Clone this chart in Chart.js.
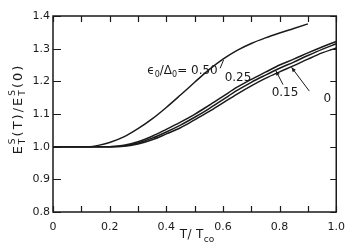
<!DOCTYPE html>
<html>
<head>
<meta charset="utf-8">
<script src="https://cdn.jsdelivr.net/npm/chart.js@4.4.1/dist/chart.umd.min.js"></script>
<style>
  html, body { margin: 0; padding: 0; background: #fff; }
  #wrap { width: 354px; height: 251px; }
</style>
</head>
<body>
<div id="wrap"><canvas id="c" width="354" height="251"></canvas></div>
<script>
// ---- data ----
const xTickValues = [0, 0.2, 0.4, 0.6, 0.8, 1.0];
const xTickLabels = ['0', '0.2', '0.4', '0.6', '0.8', '1.0'];
const xMinorTicks = [0, 0.1, 0.2, 0.3, 0.4, 0.5, 0.6, 0.7, 0.8, 0.9, 1.0];
const yTickValues = [0.8, 0.9, 1.0, 1.1, 1.2, 1.3, 1.4];
const yTickLabels = ['0.8', '0.9', '1.0', '1.1', '1.2', '1.3', '1.4'];

const x50 = [0, 0.05, 0.1, 0.13, 0.16, 0.2, 0.25, 0.3, 0.35, 0.4, 0.45, 0.5, 0.55, 0.6, 0.65, 0.7, 0.75, 0.8, 0.85, 0.9];
const y50 = [1, 1, 1, 1, 1.004, 1.013, 1.03, 1.055, 1.085, 1.12, 1.158, 1.197, 1.235, 1.268, 1.295, 1.316, 1.333, 1.348, 1.362, 1.376];

const xLow = [0, 0.1, 0.2, 0.25, 0.3, 0.35, 0.4, 0.45, 0.5, 0.55, 0.6, 0.65, 0.7, 0.75, 0.8, 0.85, 0.9, 0.95, 1.0];
const y25 = [1, 1, 1, 1.004, 1.015, 1.032, 1.053, 1.075, 1.099, 1.126, 1.154, 1.182, 1.206, 1.228, 1.25, 1.268, 1.287, 1.305, 1.322];
const y15 = [1, 1, 1, 1.002, 1.011, 1.026, 1.045, 1.066, 1.09, 1.116, 1.144, 1.172, 1.197, 1.219, 1.24, 1.259, 1.279, 1.298, 1.315];
const y00 = [1, 1, 1, 1.001, 1.008, 1.021, 1.039, 1.058, 1.082, 1.107, 1.134, 1.161, 1.186, 1.209, 1.229, 1.248, 1.268, 1.287, 1.302];

const seriesNames = ['0.50', '0.25', '0.15', '0'];

// annotation anchors (data coordinates)
const labelPos = { '0.50': [0.333, 1.236], '0.25': [0.606, 1.214], '0.15': [0.772, 1.166], '0': [0.955, 1.148] };
const arrows = [
  { from: [0.812, 1.19], to: [0.787, 1.232] },
  { from: [0.905, 1.17], to: [0.842, 1.243] }
];
const leader = { from: [0.59, 1.24], to: [0.602, 1.265] };

// ---- helpers ----
const INK = '#1a1a1a';
const FONT = '"DejaVu Sans", "Liberation Sans", sans-serif';
const pts = (xs, ys) => xs.map((x, i) => ({ x: x, y: ys[i] }));

function measureParts(ctx, parts, spacing) {
  let w = 0;
  parts.forEach(p => {
    ctx.font = p.size + 'px ' + FONT;
    if (p.sup !== undefined) {
      w += Math.max(ctx.measureText(p.sup).width, ctx.measureText(p.sub).width) + spacing;
    } else {
      w += ctx.measureText(p.t).width + spacing;
    }
  });
  return w - spacing;
}
function drawParts(ctx, parts, x, y, align, spacing) {
  spacing = spacing || 0;
  const w = measureParts(ctx, parts, spacing);
  let cx = align === 'center' ? x - w / 2 : (align === 'right' ? x - w : x);
  ctx.textBaseline = 'alphabetic';
  ctx.textAlign = 'left';
  ctx.fillStyle = INK;
  parts.forEach(p => {
    ctx.font = p.size + 'px ' + FONT;
    if (p.sup !== undefined) {
      ctx.fillText(p.sup, cx, y + p.supDy);
      ctx.fillText(p.sub, cx, y + p.subDy);
      cx += Math.max(ctx.measureText(p.sup).width, ctx.measureText(p.sub).width) + spacing;
    } else {
      ctx.fillText(p.t, cx, y + (p.dy || 0));
      cx += ctx.measureText(p.t).width + spacing;
    }
  });
}
function arrow(ctx, x1, y1, x2, y2) {
  ctx.beginPath(); ctx.moveTo(x1, y1); ctx.lineTo(x2, y2); ctx.stroke();
  const a = Math.atan2(y2 - y1, x2 - x1), L = 5, s = 0.4;
  ctx.beginPath();
  ctx.moveTo(x2, y2);
  ctx.lineTo(x2 - L * Math.cos(a - s), y2 - L * Math.sin(a - s));
  ctx.lineTo(x2 - L * Math.cos(a + s), y2 - L * Math.sin(a + s));
  ctx.closePath(); ctx.fill();
}

const decor = {
  id: 'decor',
  afterDraw(chart) {
    const ctx = chart.ctx, a = chart.chartArea, xs = chart.scales.x, ys = chart.scales.y;
    ctx.save();
    ctx.strokeStyle = INK; ctx.fillStyle = INK;
    // frame
    ctx.lineWidth = 1.5;
    ctx.strokeRect(a.left, a.top, a.right - a.left, a.bottom - a.top);
    // inward ticks
    ctx.lineWidth = 1.2;
    ctx.beginPath();
    xMinorTicks.forEach(v => {
      const px = Math.round(xs.getPixelForValue(v)) + 0.5;
      ctx.moveTo(px, a.bottom); ctx.lineTo(px, a.bottom - 6);
      ctx.moveTo(px, a.top); ctx.lineTo(px, a.top + 6);
    });
    yTickValues.forEach(v => {
      const py = Math.round(ys.getPixelForValue(v)) + 0.5;
      ctx.moveTo(a.left, py); ctx.lineTo(a.left + 8, py);
      ctx.moveTo(a.right, py); ctx.lineTo(a.right - 6, py);
    });
    ctx.stroke();

    // y title (rotated)
    ctx.save();
    ctx.translate(22, (a.top + a.bottom) / 2 - 4);
    ctx.rotate(-Math.PI / 2);
    drawParts(ctx, [
      { t: 'E', size: 13 },
      { sup: 'S', sub: 'T', size: 9, supDy: -7, subDy: 3 },
      { t: '(', size: 13 }, { t: 'T', size: 13 }, { t: ')', size: 13 },
      { t: '/', size: 13 }, { t: 'E', size: 13 },
      { sup: 'S', sub: 'T', size: 9, supDy: -7, subDy: 3 },
      { t: '(', size: 13 }, { t: '0', size: 13 }, { t: ')', size: 13 }
    ], 0, 0, 'center', 2);
    ctx.restore();

    // x title
    drawParts(ctx, [
      { t: 'T', size: 12 }, { t: '/', size: 12 }, { t: ' T', size: 12 },
      { t: 'co', size: 9, dy: 4 }
    ], 197, 238, 'center', 0.5);

    // curve labels
    const P = (d) => [xs.getPixelForValue(d[0]), ys.getPixelForValue(d[1])];
    let p = P(labelPos['0.50']);
    drawParts(ctx, [
      { t: 'ϵ', size: 12 }, { t: '0', size: 8, dy: 3 },
      { t: '/', size: 12 }, { t: 'Δ', size: 12 }, { t: '0', size: 8, dy: 3 },
      { t: '= 0.50', size: 12 }
    ], p[0], p[1] + 4, 'left', 0);
    ['0.25', '0.15', '0'].forEach(k => {
      const q = P(labelPos[k]);
      drawParts(ctx, [{ t: k, size: 12 }], q[0], q[1] + 4, 'left', 0);
    });
    // leader and arrows
    ctx.lineWidth = 1;
    const l1 = P(leader.from), l2 = P(leader.to);
    ctx.beginPath(); ctx.moveTo(l1[0], l1[1]); ctx.lineTo(l2[0], l2[1]); ctx.stroke();
    arrows.forEach(ar => {
      const f = P(ar.from), t = P(ar.to);
      arrow(ctx, f[0], f[1], t[0], t[1]);
    });
    ctx.restore();
  }
};

const lineStyle = {
  showLine: true, borderColor: INK, borderWidth: 1.5, pointRadius: 0,
  cubicInterpolationMode: 'monotone', fill: false
};

new Chart(document.getElementById('c'), {
  type: 'scatter',
  data: {
    datasets: [
      Object.assign({ label: seriesNames[0], data: pts(x50, y50) }, lineStyle),
      Object.assign({ label: seriesNames[1], data: pts(xLow, y25) }, lineStyle),
      Object.assign({ label: seriesNames[2], data: pts(xLow, y15) }, lineStyle),
      Object.assign({ label: seriesNames[3], data: pts(xLow, y00) }, lineStyle)
    ]
  },
  options: {
    responsive: false,
    animation: false,
    devicePixelRatio: 1,
    layout: { padding: { top: 16, right: 11, left: 0, bottom: 0 } },
    plugins: { legend: { display: false }, tooltip: { enabled: false } },
    scales: {
      x: {
        type: 'linear', min: 0, max: 1,
        afterBuildTicks: s => { s.ticks = xTickValues.map(v => ({ value: v })); },
        ticks: {
          autoSkip: false, maxRotation: 0, padding: 9, color: INK,
          font: { family: FONT, size: 11 },
          callback: (v) => { const i = xTickValues.findIndex(t => Math.abs(t - v) < 1e-6); return i >= 0 ? xTickLabels[i] : ''; }
        },
        grid: { display: false, drawTicks: false },
        border: { display: false },
        afterFit: s => { s.height = 39; }
      },
      y: {
        type: 'linear', min: 0.8, max: 1.4,
        afterBuildTicks: s => { s.ticks = yTickValues.map(v => ({ value: v })); },
        ticks: {
          autoSkip: false, padding: 3, color: INK,
          font: { family: FONT, size: 11 },
          callback: (v) => { const i = yTickValues.findIndex(t => Math.abs(t - v) < 1e-6); return i >= 0 ? yTickLabels[i] : ''; }
        },
        grid: { display: false, drawTicks: false },
        border: { display: false },
        afterFit: s => { s.width = 53; }
      }
    }
  },
  plugins: [decor]
});
</script>
</body>
</html>
